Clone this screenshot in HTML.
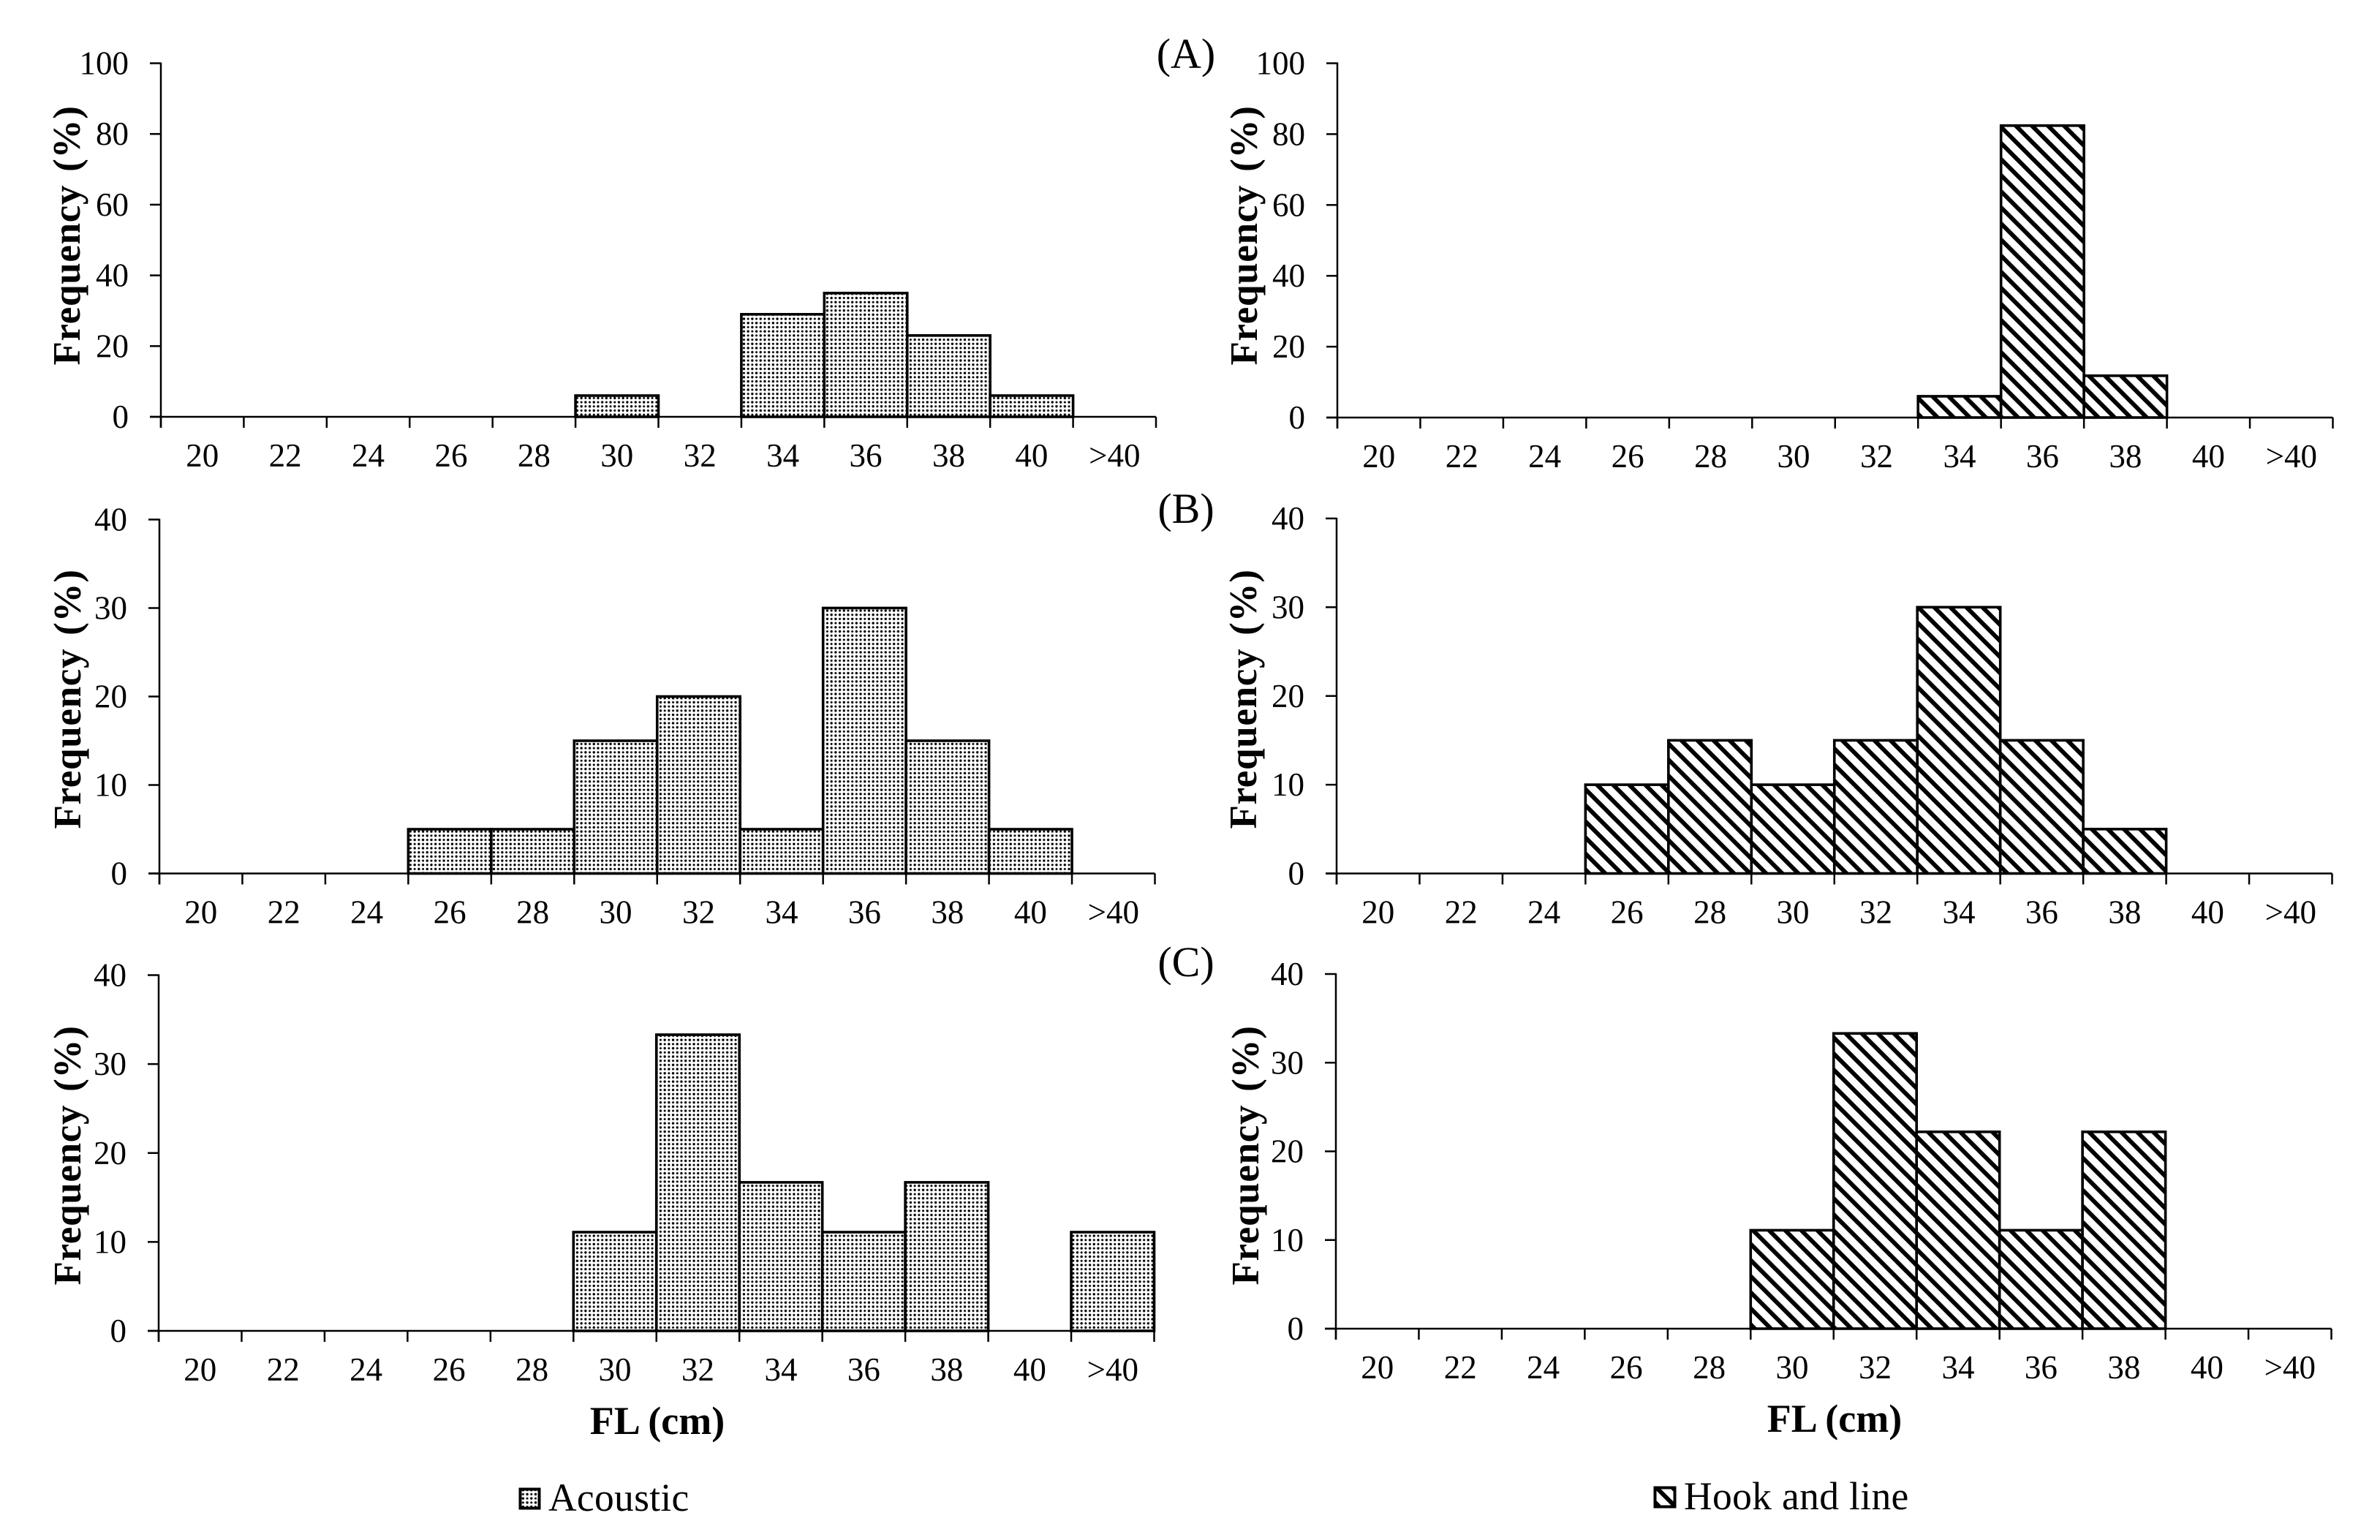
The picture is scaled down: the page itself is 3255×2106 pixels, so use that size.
<!DOCTYPE html>
<html lang="en">
<head>
<meta charset="utf-8">
<title>Fork length frequency histograms</title>
<style>
html,body{margin:0;padding:0;background:#fff;}
svg{display:block;}
text{font-family:"Liberation Serif",serif;fill:#000;}
</style>
</head>
<body>
<svg id="chart" xmlns="http://www.w3.org/2000/svg" width="3255" height="2106" viewBox="0 0 3255 2106">
  <defs>
    <pattern id="dots" patternUnits="userSpaceOnUse" width="11.4" height="11.4">
      <rect width="11.4" height="11.4" fill="#fff"/>
      <circle cx="2.85" cy="2.85" r="1.7" fill="#000"/>
      <circle cx="8.55" cy="2.85" r="1.5" fill="#000"/>
      <circle cx="2.85" cy="8.55" r="1.5" fill="#000"/>
      <circle cx="8.55" cy="8.55" r="1.7" fill="#000"/>
    </pattern>
    <pattern id="hatch" patternUnits="userSpaceOnUse" width="22" height="22" patternTransform="translate(11 0)">
      <rect width="22" height="22" fill="#fff"/>
      <path d="M-5.5,-5.5 L27.5,27.5 M-5.5,16.5 L5.5,27.5 M16.5,-5.5 L27.5,5.5" stroke="#000" stroke-width="5.9" fill="none"/>
    </pattern>
  </defs>
  <rect x="0" y="0" width="3255" height="2106" fill="#fff"/>

  <text x="1622" y="93" font-size="58" text-anchor="middle">(A)</text>
  <text x="1622" y="715" font-size="58" text-anchor="middle">(B)</text>
  <text x="1622" y="1335" font-size="58" text-anchor="middle">(C)</text>

  <text x="899" y="1961" font-size="54" font-weight="bold" text-anchor="middle">FL (cm)</text>
  <text x="2509" y="1958" font-size="54" font-weight="bold" text-anchor="middle">FL (cm)</text>

  <g>
    <rect x="711.5" y="2036.5" width="26" height="26" fill="url(#dots)" stroke="#000" stroke-width="4"/>
    <text x="750" y="2066" font-size="53.5" letter-spacing="0.3">Acoustic</text>
  </g>
  <g>
    <rect x="2263.5" y="2034.5" width="27" height="26" fill="url(#hatch)" stroke="#000" stroke-width="4"/>
    <text x="2303" y="2064" font-size="53.5" letter-spacing="0.35">Hook and line</text>
  </g>
</svg>
<script>
// Chart data
var categories = ['20','22','24','26','28','30','32','34','36','38','40','>40'];
var yTicksA = [0,20,40,60,80,100];
var yTicksBC = [0,10,20,30,40];
var acousticA = [0,0,0,0,0,6,0,29,35,23,6,0];
var hookA = [0,0,0,0,0,0,0,6,82.4,11.8,0,0];
var acousticB = [0,0,0,5,5,15,20,5,30,15,5,0];
var hookB = [0,0,0,10,15,10,15,30,15,5,0,0];
var acousticC = [0,0,0,0,0,11.1,33.3,16.7,11.1,16.7,0,11.1];
var hookC = [0,0,0,0,0,11.1,33.3,22.2,11.1,22.2,0,0];

// Panel layout
var panels = [
  {id:'a-acoustic', values:acousticA, ticks:yTicksA, fill:'url(#dots)', left:220, right:1581, top:86.5, base:570, titleX:109, titleY:322},
  {id:'a-hook', values:hookA, ticks:yTicksA, fill:'url(#hatch)', left:1829, right:3190.5, top:86.5, base:571, titleX:1719, titleY:322},
  {id:'b-acoustic', values:acousticB, ticks:yTicksBC, fill:'url(#dots)', left:218, right:1579.5, top:710.5, base:1194.5, titleX:110, titleY:956},
  {id:'b-hook', values:hookB, ticks:yTicksBC, fill:'url(#hatch)', left:1828, right:3189.5, top:709, base:1194.5, titleX:1718, titleY:956},
  {id:'c-acoustic', values:acousticC, ticks:yTicksBC, fill:'url(#dots)', left:217, right:1578.5, top:1333.5, base:1820, titleX:110, titleY:1580},
  {id:'c-hook', values:hookC, ticks:yTicksBC, fill:'url(#hatch)', left:1827, right:3188.5, top:1332, base:1817, titleX:1721, titleY:1580}
];

var svg = document.getElementById('chart');
var NS = 'http://www.w3.org/2000/svg';

function make(tag, attrs, parent) {
  var el = document.createElementNS(NS, tag);
  for (var k in attrs) { el.setAttribute(k, attrs[k]); }
  parent.appendChild(el);
  return el;
}

function drawPanel(p) {
  var maxV = p.ticks[p.ticks.length - 1];
  var binW = (p.right - p.left) / categories.length;
  var xEdge = function (i) { return p.left + i * binW; };
  var yPos = function (v) { return p.base - (v / maxV) * (p.base - p.top); };

  var g = make('g', {}, svg);
  
  

  var xAxis = make('line', {x1:p.left - 15, x2:p.right, y1:p.base, y2:p.base, stroke:'#000', 'stroke-width':2.5}, g);
  
  

  var yAxis = make('line', {x1:p.left, x2:p.left, y1:p.top - 1, y2:p.base + 15, stroke:'#000', 'stroke-width':2.5}, g);
  
  

  p.ticks.forEach(function (t) {
    var tick = make('line', {x1:p.left - 15, x2:p.left, y1:yPos(t), y2:yPos(t), stroke:'#000', 'stroke-width':2.5}, g);
    
    
    var lab = make('text', {x:p.left - 44, y:yPos(t) + 15, 'font-size':45, 'text-anchor':'end'}, g);
    
    
    lab.textContent = String(t);
  });

  for (var e = 0; e <= categories.length; e++) {
    var xt = make('line', {x1:xEdge(e), x2:xEdge(e), y1:p.base, y2:p.base + 15, stroke:'#000', 'stroke-width':2.5}, g);
    
    
  }

  categories.forEach(function (c, i) {
    var xl = make('text', {x:xEdge(i) + binW / 2, y:p.base + 68, 'font-size':45, 'text-anchor':'middle'}, g);
    
    
    xl.textContent = c;
  });

  p.values.forEach(function (v, i) {
    if (v <= 0) { return; }
    var bar = make('rect', {x:xEdge(i), y:yPos(v), width:binW, height:p.base - yPos(v), fill:p.fill, stroke:'#000', 'stroke-width':3.6}, g);
    
    
  });

  var title = make('text', {transform:'translate(' + p.titleX + ' ' + p.titleY + ') rotate(-90)', 'font-size':53, 'font-weight':'bold', 'text-anchor':'middle', 'letter-spacing':0.7, 'word-spacing':4}, g);
  
  
  title.textContent = 'Frequency (%)';
}

panels.forEach(drawPanel);
</script>
</body>
</html>
